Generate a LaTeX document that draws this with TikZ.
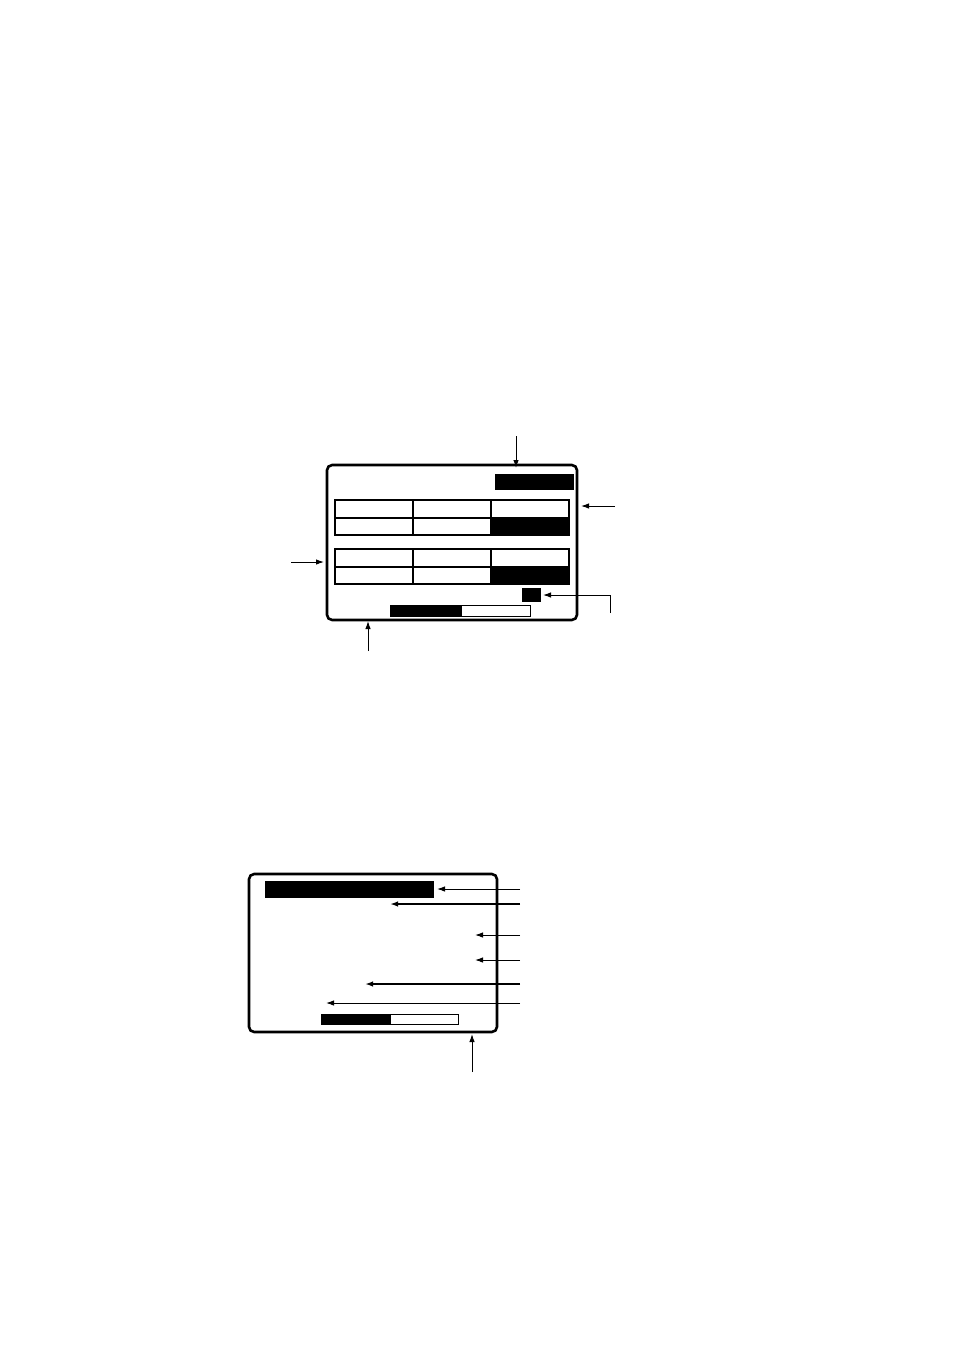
\documentclass[tikz,border=0pt]{standalone}
\usepackage{tikz}
\usetikzlibrary{arrows.meta,calc}

\tikzset{
  screen/.style={line width=2.6pt, rounded corners=1.2ex},
  cell/.style={line width=1.4pt},
  blk/.style={fill=black, draw=black},
  bar/.style={line width=0.9pt},
  pointer/.style={-{Latex[length=8pt,width=5.5pt]}, line width=1pt},
  heavy/.style={pointer, line width=1.6pt}
}

\begin{document}
\begin{tikzpicture}[x=1pt,y=-1pt]
\useasboundingbox (0,0) rectangle (954,1350);

% upper screen
\draw [screen] (327,465) rectangle (577,620);
\draw [blk] (495,474) rectangle (573,489);

\draw [cell] (335,500) rectangle (569,535);
\draw [cell] (335,518) -- (569,518);
\draw [cell] (413,500) -- (413,535);
\draw [cell] (491,500) -- (491,535);
\draw [blk] (491,518) rectangle (569,535);

\draw [cell] (335,549) rectangle (569,584);
\draw [cell] (335,567) -- (569,567);
\draw [cell] (413,549) -- (413,584);
\draw [cell] (491,549) -- (491,584);
\draw [blk] (491,567) rectangle (569,584);

\draw [blk] (522,588) rectangle (540,601);

\draw [bar] (390,605) rectangle (530,616);
\fill (390,605) rectangle (462,616);

% upper pointers
\coordinate (topA) at (516,436);
\coordinate (topB) at (516,468);
\coordinate (rgtA) at (615,506);
\coordinate (rgtB) at (581,506);
\coordinate (lftA) at (291,562);
\coordinate (lftB) at (324,562);
\coordinate (botA) at (368,651);
\coordinate (botB) at (368,621);
\coordinate (sqA) at (610,613);
\coordinate (sqB) at (543,595);

\draw [pointer] (topA) -- (topB);
\draw [pointer] (rgtA) -- (rgtB);
\draw [pointer] (lftA) -- (lftB);
\draw [pointer] (botA) -- (botB);
\draw [pointer] (sqA) |- (sqB);

% lower screen
\draw [screen] (249,874) rectangle (497,1032);
\draw [blk] (265,881) rectangle (433,897);

\draw [bar] (321,1014) rectangle (458,1024);
\fill (321,1014) rectangle (391,1024);

% lower pointers
\foreach \y/\x/\s in {889/437/pointer, 904/390/heavy, 935/475/pointer,
                      960/475/pointer, 984/365/heavy, 1003/326/pointer}
  \draw [\s] (520,\y) coordinate (src\y) -- (\x,\y) coordinate (dst\y);

\coordinate (lowA) at (472,1072);
\coordinate (lowB) at (472,1034);
\draw [pointer] (lowA) -- (lowB);
\end{tikzpicture}
\end{document}
